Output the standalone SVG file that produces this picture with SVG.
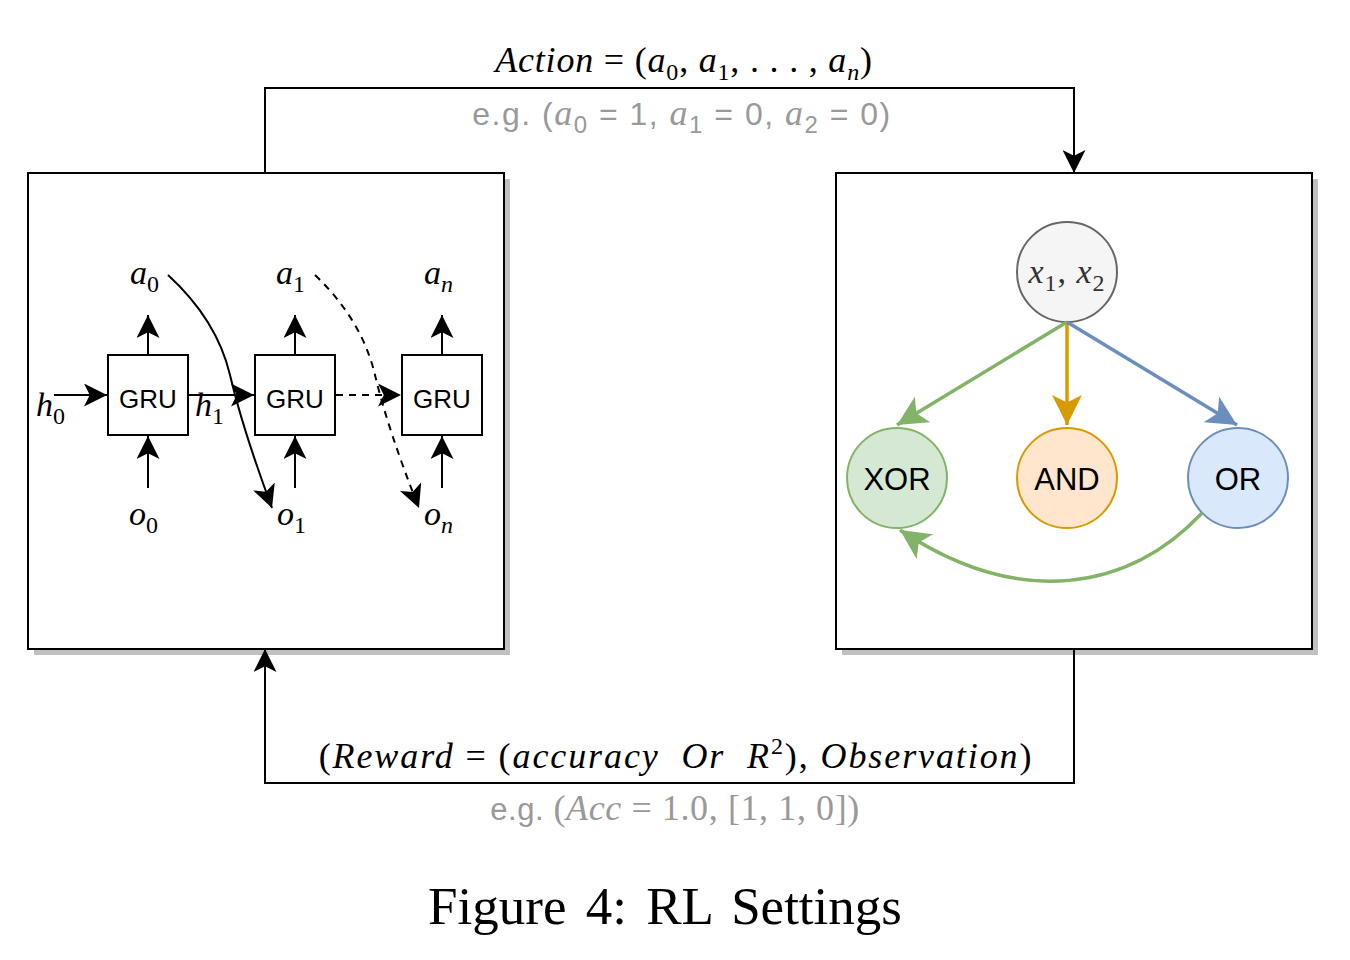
<svg xmlns="http://www.w3.org/2000/svg" width="1350" height="960" viewBox="0 0 1350 960">
<style>
.box{fill:#fff;stroke:#000;stroke-width:2}
.shadow{fill:#c0c0c0}
.ln{fill:none;stroke:#000;stroke-width:2}
.dash{fill:none;stroke:#000;stroke-width:2;stroke-dasharray:7 6}
.math{font-family:"Liberation Serif",serif;font-style:italic;font-size:34px;fill:#000}
.big{font-size:36px}
.sub{font-style:normal;font-size:24px}
.isub{font-style:italic;font-size:24px}
.up{font-style:normal}
.gru{font-family:"Liberation Sans",Arial,sans-serif;font-size:26px;text-anchor:middle}
.node{font-family:"Liberation Sans",Arial,sans-serif;font-size:31px;text-anchor:middle}
.gray{fill:#999999}
.sf{font-family:"Liberation Sans",Arial,sans-serif;font-style:normal}
.ser{font-family:"Liberation Serif",serif}
</style>
<defs>
<marker id="ab" viewBox="0 0 23 23" refX="23" refY="11.5" markerWidth="23" markerHeight="23" markerUnits="userSpaceOnUse" orient="auto">
<path d="M0,0 L23,11.5 L0,23 L5.75,11.5 Z" fill="#000"/>
</marker>
<marker id="ag" viewBox="0 0 30 30" refX="30" refY="15" markerWidth="30" markerHeight="30" markerUnits="userSpaceOnUse" orient="auto">
<path d="M0,0 L30,15 L0,30 L7.5,15 Z" fill="#82b366"/>
</marker>
<marker id="ao" viewBox="0 0 30 30" refX="30" refY="15" markerWidth="30" markerHeight="30" markerUnits="userSpaceOnUse" orient="auto">
<path d="M0,0 L30,15 L0,30 L7.5,15 Z" fill="#d79b00"/>
</marker>
<marker id="ablue" viewBox="0 0 30 30" refX="30" refY="15" markerWidth="30" markerHeight="30" markerUnits="userSpaceOnUse" orient="auto">
<path d="M0,0 L30,15 L0,30 L7.5,15 Z" fill="#6c8ebf"/>
</marker>
</defs>
<rect width="1350" height="960" fill="#fff"/>

<g id="agent">
<rect class="shadow" x="34" y="179" width="476" height="476"/>
<rect class="box" x="28" y="173" width="476" height="476"/>
</g>
<g id="environment">
<rect class="shadow" x="842" y="179" width="476" height="476"/>
<rect class="box" x="836" y="173" width="476" height="476"/>
</g>

<g id="gru0"><rect class="box" x="108" y="355" width="80" height="80"/><text class="gru" x="148" y="408">GRU</text></g>
<g id="gru1"><rect class="box" x="255" y="355" width="80" height="80"/><text class="gru" x="295" y="408">GRU</text></g>
<g id="gru2"><rect class="box" x="402" y="355" width="80" height="80"/><text class="gru" x="442" y="408">GRU</text></g>

<g id="rnn-labels" class="math">
<text x="130" y="284">a<tspan class="sub" dy="8">0</tspan></text>
<text x="276" y="284">a<tspan class="sub" dy="8">1</tspan></text>
<text x="424" y="284">a<tspan class="isub" dy="8">n</tspan></text>
<text x="129" y="525">o<tspan class="sub" dy="8">0</tspan></text>
<text x="277" y="525">o<tspan class="sub" dy="8">1</tspan></text>
<text x="424" y="525">o<tspan class="isub" dy="8">n</tspan></text>
<text x="36" y="416">h<tspan class="sub" dy="8">0</tspan></text>
<text x="195" y="416">h<tspan class="sub" dy="8">1</tspan></text>
</g>

<g id="x1x2"><circle cx="1067" cy="272" r="50" fill="#f5f5f5" stroke="#666666" stroke-width="2"/>
<text class="math" x="1067" y="283" text-anchor="middle" letter-spacing="1" style="fill:#333333">x<tspan class="sub" dy="8">1</tspan><tspan class="up" dy="-8">, </tspan>x<tspan class="sub" dy="8">2</tspan></text></g>
<g id="xor"><circle cx="897" cy="478" r="50" fill="#d5e8d4" stroke="#82b366" stroke-width="2"/><text class="node" x="897" y="490">XOR</text></g>
<g id="and"><circle cx="1067" cy="478" r="50" fill="#ffe6cc" stroke="#d79b00" stroke-width="2"/><text class="node" x="1067" y="490">AND</text></g>
<g id="or"><circle cx="1238" cy="478" r="50" fill="#dae8fc" stroke="#6c8ebf" stroke-width="2"/><text class="node" x="1238" y="490">OR</text></g>

<g id="connectors">
<path class="ln" d="M265,173 V88 H1074 V173" marker-end="url(#ab)"/>
<path class="ln" d="M1074,649 V783 H265 V649" marker-end="url(#ab)"/>
<path class="ln" d="M148,355 V315" marker-end="url(#ab)"/>
<path class="ln" d="M295,355 V315" marker-end="url(#ab)"/>
<path class="ln" d="M442,355 V315" marker-end="url(#ab)"/>
<path class="ln" d="M148,488 V436" marker-end="url(#ab)"/>
<path class="ln" d="M295,488 V436" marker-end="url(#ab)"/>
<path class="ln" d="M442,488 V436" marker-end="url(#ab)"/>
<path class="ln" d="M54,395 H107" marker-end="url(#ab)"/>
<path class="ln" d="M188,395 H254" marker-end="url(#ab)"/>
<path class="dash" d="M336,395 H401" marker-end="url(#ab)"/>
<path class="ln" d="M168,275 Q217,320 230,375 T272,508" marker-end="url(#ab)"/>
<path class="dash" d="M315,275 Q362,320 375,375 T419,508" marker-end="url(#ab)"/>
<path d="M1067,322 L897,425" fill="none" stroke="#82b366" stroke-width="3.5" marker-end="url(#ag)"/>
<path d="M1067,322 L1067,425" fill="none" stroke="#d79b00" stroke-width="3.5" marker-end="url(#ao)"/>
<path d="M1067,322 L1237,425" fill="none" stroke="#6c8ebf" stroke-width="3.5" marker-end="url(#ablue)"/>
<path d="M1202,513 C1130,590 1020,610 900,530" fill="none" stroke="#82b366" stroke-width="3.5" marker-end="url(#ag)"/>
</g>

<g id="edge-labels">
<text class="math big" x="684" y="72" text-anchor="middle" letter-spacing="0.8">Action <tspan class="up">= (</tspan>a<tspan class="sub" font-size="25" dy="8">0</tspan><tspan class="up" dy="-8">, </tspan>a<tspan class="sub" font-size="25" dy="8">1</tspan><tspan class="up" dy="-8">, . . . , </tspan>a<tspan class="isub" font-size="25" dy="8">n</tspan><tspan class="up" dy="-8">)</tspan></text>
<text class="gray sf" x="682" y="125" text-anchor="middle" font-size="32" letter-spacing="1.5">e.g. (<tspan class="ser" font-style="italic" font-size="36">a</tspan><tspan dy="8" font-size="24">0</tspan><tspan dy="-8"> = 1, </tspan><tspan class="ser" font-style="italic" font-size="36">a</tspan><tspan dy="8" font-size="24">1</tspan><tspan dy="-8"> = 0, </tspan><tspan class="ser" font-style="italic" font-size="36">a</tspan><tspan dy="8" font-size="24">2</tspan><tspan dy="-8"> = 0)</tspan></text>
<text class="math big" x="676" y="768" text-anchor="middle" xml:space="preserve" letter-spacing="1.9"><tspan class="up">(</tspan>Reward <tspan class="up">= (</tspan>accuracy  Or  R<tspan class="sub" dy="-14">2</tspan><tspan class="up" dy="14">), </tspan>Observation<tspan class="up">)</tspan></text>
<text class="gray ser" x="675" y="820" text-anchor="middle" font-size="36" letter-spacing="0.6"><tspan class="sf" font-size="31">e.g. </tspan>(<tspan font-style="italic">Acc</tspan> = 1.0, [1, 1, 0])</text>
</g>

<text x="665" y="924" text-anchor="middle" font-family="Liberation Serif, serif" font-size="53" word-spacing="6">Figure 4: RL Settings</text>
</svg>
